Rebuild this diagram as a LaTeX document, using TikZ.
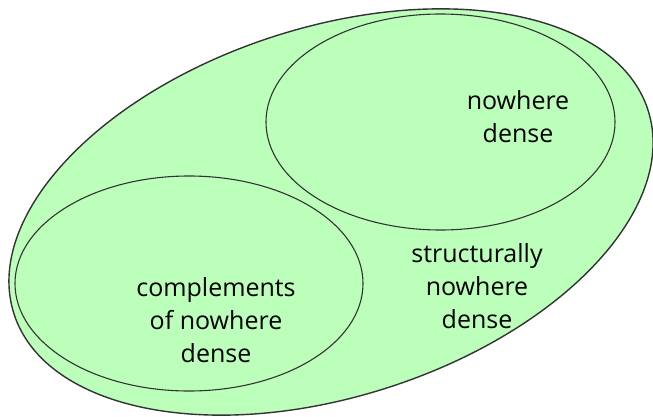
\documentclass[tikz,border=0pt]{standalone}
\usepackage{fontspec}
\setmainfont{Open Sans}
\begin{document}
\begin{tikzpicture}[x=1pt,y=1pt,
  region/.style={draw=black!80, line width=1.1pt},
  label/.style={align=center, font=\fontsize{25}{33}\selectfont, text=black}]
\definecolor{venngreen}{RGB}{187,255,187}
\useasboundingbox (0,0) rectangle (653,416);
% outer class
\draw[region, fill=venngreen, line width=1.4pt, rotate around={17.8:(331,204)}]
  (331,204) ellipse [x radius=333, y radius=184.6];
% two subclasses
\draw[region] (440.5,294) ellipse [x radius=174.5, y radius=108];
\draw[region] (189,132.5) ellipse [x radius=174, y radius=107.5];
% labels
\node[label] (nd) at (518,299.5) {nowhere\\dense};
\node[label] (snd) at (477,130) {structurally\\nowhere\\dense};
\node[label] (cnd) at (216,96) {complements\\of nowhere\\dense};
\end{tikzpicture}
\end{document}
